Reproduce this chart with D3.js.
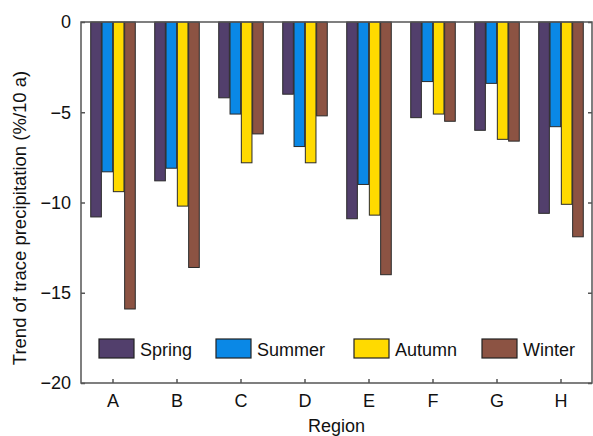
<!DOCTYPE html>
<html>
<head>
<meta charset="utf-8">
<script src="https://cdn.jsdelivr.net/npm/d3@7"></script>
<style>
  html, body { margin: 0; padding: 0; background: #fff; }
  svg { display: block; font-family: "Liberation Sans", Arial, sans-serif; }
</style>
</head>
<body>
<svg id="chart" width="593" height="436"></svg>
<script>
// Regions and seasons
const regions = ["A", "B", "C", "D", "E", "F", "G", "H"];
const seasons = ["Spring", "Summer", "Autumn", "Winter"];

// Trend of trace precipitation (%/10 a) per region, one array per season
const spring = [-10.8, -8.8, -4.2, -4.0, -10.9, -5.3, -6.0, -10.6];
const summer = [-8.3, -8.1, -5.1, -6.9, -9.0, -3.3, -3.4, -5.8];
const autumn = [-9.4, -10.2, -7.8, -7.8, -10.7, -5.1, -6.5, -10.1];
const winter = [-15.9, -13.6, -6.2, -5.2, -14.0, -5.5, -6.6, -11.9];

const yTicks = [0, -5, -10, -15, -20];
const seasonColors = ["#523f6c", "#0a88e6", "#ffda00", "#8c5343"];

const seriesBySeason = [spring, summer, autumn, winter];
const rows = regions.map((r, i) => ({
  region: r,
  values: seasons.map((s, j) => ({ season: s, value: seriesBySeason[j][i] }))
}));

const svg = d3.select("#chart");
const m = { left: 81, right: 592, top: 22, bottom: 383 };
const fontSize = 18;

const x = d3.scaleBand().domain(regions).range([m.left, m.left + 64 * 8]).paddingInner(0).paddingOuter(0);
const xInner = d3.scaleBand().domain(seasons).range([0, x.bandwidth()]).paddingInner(0.06).paddingOuter(0.86);
const y = d3.scaleLinear().domain([-20, 0]).range([m.bottom, m.top]);
const color = d3.scaleOrdinal().domain(seasons).range(seasonColors);

// Bars
const groups = svg.append("g")
  .selectAll("g")
  .data(rows)
  .join("g")
  .attr("transform", d => `translate(${x(d.region)},0)`);

groups.selectAll("rect")
  .data(d => d.values)
  .join("rect")
  .attr("x", d => xInner(d.season))
  .attr("y", y(0))
  .attr("width", xInner.bandwidth())
  .attr("height", d => y(d.value) - y(0))
  .attr("fill", d => color(d.season))
  .attr("stroke", "#2a2a2a")
  .attr("stroke-width", 1);

// Frame
svg.append("rect")
  .attr("x", m.left).attr("y", m.top)
  .attr("width", m.right - m.left).attr("height", m.bottom - m.top)
  .attr("fill", "none").attr("stroke", "#555").attr("stroke-width", 1.5);

// Left axis
const yAxis = svg.append("g")
  .attr("transform", `translate(${m.left},0)`)
  .call(d3.axisLeft(y).tickValues(yTicks).tickSizeInner(-4).tickSizeOuter(0).tickPadding(10)
    .tickFormat(d => d3.format("")(d).replace("-", "\u2212")));
yAxis.select(".domain").remove();
yAxis.selectAll("line").attr("stroke", "#555").attr("stroke-width", 1.5);
yAxis.selectAll("text").attr("font-size", fontSize).attr("fill", "#111")
  .attr("font-family", "'Liberation Sans', Arial, sans-serif");

// Right axis (ticks only)
const yAxisR = svg.append("g")
  .attr("transform", `translate(${m.right},0)`)
  .call(d3.axisRight(y).tickValues(yTicks).tickSizeInner(-4).tickSizeOuter(0).tickFormat(""));
yAxisR.select(".domain").remove();
yAxisR.selectAll("line").attr("stroke", "#555").attr("stroke-width", 1.5);

// Bottom axis
const xAxis = svg.append("g")
  .attr("transform", `translate(0,${m.bottom})`)
  .call(d3.axisBottom(x).tickSizeInner(-4).tickSizeOuter(0).tickPadding(11));
xAxis.select(".domain").remove();
xAxis.selectAll("line").attr("stroke", "#555").attr("stroke-width", 1.5);
xAxis.selectAll("text").attr("font-size", fontSize).attr("fill", "#111")
  .attr("font-family", "'Liberation Sans', Arial, sans-serif");

// Axis titles
svg.append("text")
  .attr("x", (m.left + m.right) / 2).attr("y", 432)
  .attr("text-anchor", "middle").attr("font-size", fontSize).attr("fill", "#111")
  .text("Region");

svg.append("text")
  .attr("transform", `translate(26,218) rotate(-90)`)
  .attr("text-anchor", "middle").attr("font-size", 18.5).attr("fill", "#111")
  .text("Trend of trace precipitation (%/10 a)");

// Legend
const legendX = [99, 216, 354, 482];
const legend = svg.append("g")
  .selectAll("g")
  .data(seasons)
  .join("g")
  .attr("transform", (d, i) => `translate(${legendX[i]},339)`);
legend.append("rect")
  .attr("width", 35).attr("height", 19)
  .attr("fill", d => color(d)).attr("stroke", "#222").attr("stroke-width", 1.2);
legend.append("text")
  .attr("x", 41).attr("y", 17)
  .attr("font-size", fontSize).attr("fill", "#111")
  .text(d => d);
</script>
</body>
</html>
